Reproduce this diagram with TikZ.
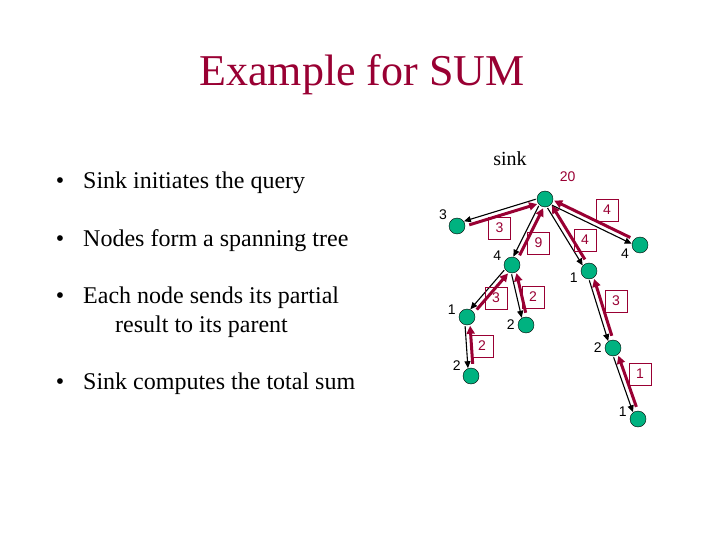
\documentclass[tikz,border=0pt]{standalone}
\usepackage{fontspec}
\setmainfont{Liberation Serif}
\newfontfamily\numfont{Liberation Sans}
\usetikzlibrary{arrows.meta,calc}

\definecolor{sumred}{RGB}{153,0,51}
\definecolor{nodegreen}{RGB}{0,178,128}

\tikzset{
    sensor/.style={circle, draw, thin, fill=nodegreen, minimum size=16pt, inner sep=0pt},
    msgbox/.style={draw=sumred, line width=0.7pt, minimum size=22pt, inner sep=0pt,
        text=sumred, font=\numfont\fontsize{14}{14}\selectfont},
    query/.style={black, line width=1.1pt, shorten <=9pt, shorten >=8pt,
        -{Triangle[length=7pt,width=6pt]}},
    reply/.style={sumred, line width=3pt, shorten <=12pt, shorten >=9pt,
        -{Triangle[length=8pt,width=8pt]}},
    item/.style={anchor=base west, inner sep=0pt, font=\fontsize{24}{29}\selectfont},
    dot/.style={anchor=base, inner sep=0pt, font=\fontsize{24}{29}\selectfont}
}

\begin{document}
\begin{tikzpicture}[x=1pt, y=-1pt,
    every label/.append style={inner sep=1pt, label distance=2pt, font=\numfont\fontsize{14}{14}\selectfont}]
    \useasboundingbox (0,0) rectangle (720,540);

    % Title
    \node[anchor=base, text=sumred, font=\fontsize{44}{44}\selectfont] (title) at (362,86) {Example for SUM};

    % Bullets
    \node[dot] (d1) at (60,189) {\textbullet};
    \node[item] (t1) at (83,189) {Sink initiates the query};
    \node[dot] (d2) at (60,246) {\textbullet};
    \node[item] (t2) at (83,246) {Nodes form a spanning tree};
    \node[dot] (d3) at (60,303) {\textbullet};
    \node[item] (t3) at (83,303) {Each node sends its partial};
    \node[item] (t3b) at (115,332) {result to its parent};
    \node[dot] (d4) at (60,389) {\textbullet};
    \node[item] (t4) at (83,389) {Sink computes the total sum};

    % Draw nodes
    \node[anchor=base, font=\fontsize{20}{20}\selectfont] (sinktxt) at (510,166) {sink};
    \node[sensor, label={[text=sumred, label distance=13pt]50:20}] (r) at (545,199) {};
    \node[sensor, label={150:3}] (a) at (457,226) {};
    \node[sensor, label={160:4}] (b) at (512,265) {};
    \node[sensor, label={185:1}] (c) at (589,271) {};
    \node[sensor, label={195:4}] (d) at (640,245) {};
    \node[sensor, label={170:1}] (e) at (467,317) {};
    \node[sensor, label={180:2}] (f) at (526,325) {};
    \node[sensor, label={155:2}] (g) at (471,376) {};
    \node[sensor, label={180:2}] (h) at (613,348) {};
    \node[sensor, label={175:1}] (i) at (638,419) {};

    % Query down, partial sums up
    \foreach \p/\c in {r/a, r/b, r/c, r/d, b/e, b/f, e/g, c/h, h/i} {
        \draw[query] ($(\p)!2.5pt!-90:(\c)$) -- ($(\c)!2.5pt!90:(\p)$);
        \draw[reply] ($(\c)!2.5pt!-90:(\p)$) -- ($(\p)!2.5pt!90:(\c)$);
    }

    % Partial results
    \node[msgbox] (ma) at (499.5,228) {3};
    \node[msgbox] (mb) at (538.5,243) {9};
    \node[msgbox] (md) at (607,210) {4};
    \node[msgbox] (mc) at (585,240) {4};
    \node[msgbox] (me) at (496,298) {3};
    \node[msgbox] (mf) at (533,297) {2};
    \node[msgbox] (mg) at (482,346) {2};
    \node[msgbox] (mh) at (616,301) {3};
    \node[msgbox] (mi) at (640,374) {1};
\end{tikzpicture}
\end{document}
